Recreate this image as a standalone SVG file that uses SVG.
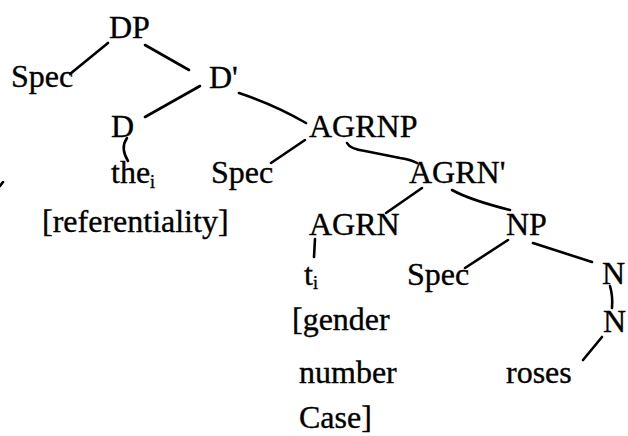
<svg xmlns="http://www.w3.org/2000/svg" width="628" height="436" viewBox="0 0 628 436">
<style>
text{font-family:"Liberation Serif","Times New Roman",serif;font-size:32px;fill:#000;stroke:#000;stroke-width:0.35}
.sub{font-size:18px}
.e{fill:none;stroke:#000;stroke-width:2.6;stroke-linecap:round}
</style>
<rect width="628" height="436" fill="#fff"/>
<g id="edges">
<path class="e" d="M108,43 L70,74"/>
<path class="e" d="M145,45 L189,70"/>
<path class="e" d="M200,86 L145,117"/>
<path class="e" d="M239,93 Q275,105 306,123"/>
<path class="e" d="M127,138 Q120,148 128,161"/>
<path class="e" d="M305,140 L271,163"/>
<path class="e" d="M347,143 Q350,149 365,151 L400,158 Q412,160 417,163"/>
<path class="e" d="M422,188 L386,213"/>
<path class="e" d="M452,190 Q470,200 510,210"/>
<path class="e" d="M315,239 L314,257"/>
<path class="e" d="M508,240 L465,268"/>
<path class="e" d="M533,243 L592,262"/>
<path class="e" d="M610,286 Q613,296 612,308"/>
<path class="e" d="M602,337 L583,360"/>
<path class="e" d="M0,186 L3,182"/>
</g>
<g id="n-DP"><text x="109" y="38">DP</text></g>
<g id="n-Spec1"><text x="11" y="87">Spec</text></g>
<g id="n-Dbar"><text x="209" y="88">D'</text></g>
<g id="n-D"><text x="111" y="137">D</text></g>
<g id="n-the"><text x="111" y="183">the<tspan class="sub" dy="5">i</tspan></text></g>
<g id="n-ref"><text x="42" y="232">[referentiality]</text></g>
<g id="n-AGRNP"><text x="309" y="137">AGRNP</text></g>
<g id="n-Spec2"><text x="211" y="183">Spec</text></g>
<g id="n-AGRNbar"><text x="409" y="183">AGRN'</text></g>
<g id="n-AGRN"><text x="309" y="235">AGRN</text></g>
<g id="n-NP"><text x="506" y="235">NP</text></g>
<g id="n-t"><text x="304" y="285">t<tspan class="sub" dy="4">i</tspan></text></g>
<g id="n-Spec3"><text x="407" y="285">Spec</text></g>
<g id="n-N1"><text x="602" y="284">N</text></g>
<g id="n-N2"><text x="603" y="332">N</text></g>
<g id="n-feat"><text x="292" y="330">[gender</text><text x="299" y="383">number</text><text x="299" y="428">Case]</text></g>
<g id="n-roses"><text x="506" y="383">roses</text></g>
</svg>
